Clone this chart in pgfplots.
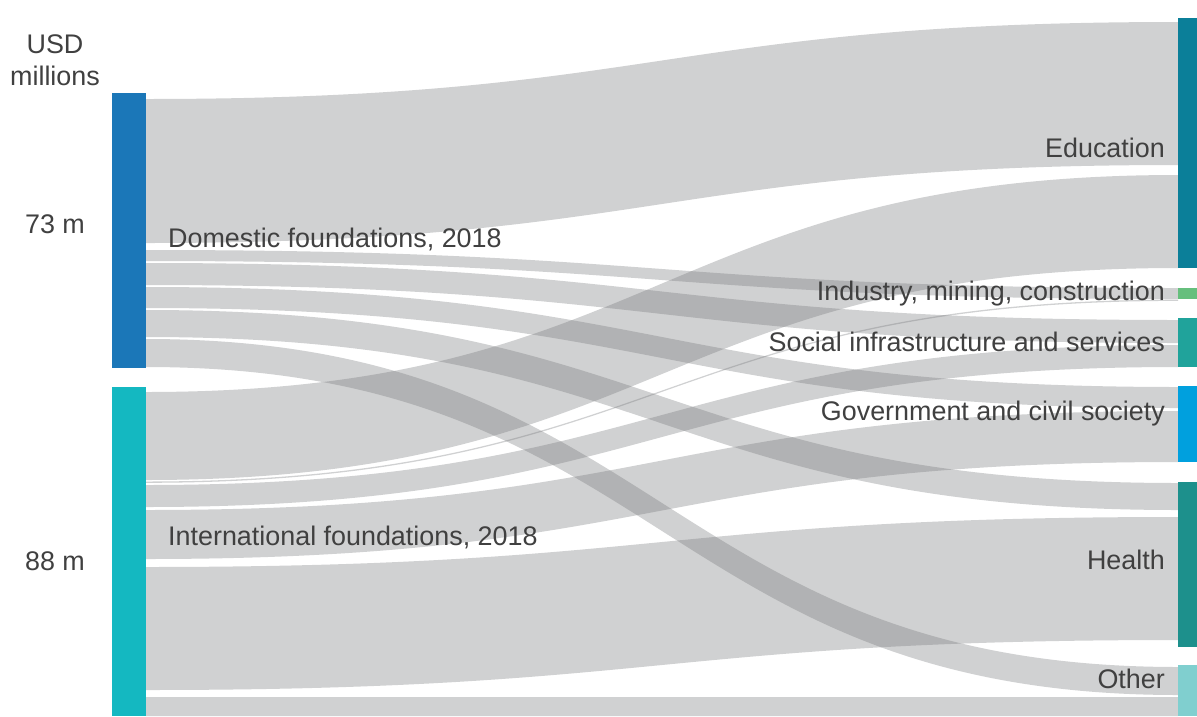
\documentclass[border=0pt]{standalone}
\usepackage{fontspec}
\setmainfont{Liberation Sans}
\usepackage{pgfplots}
\pgfplotsset{compat=1.18}
\definecolor{flowc}{RGB}{117,119,122}
\definecolor{txt}{RGB}{64,64,64}
\definecolor{domc}{RGB}{27,119,184}
\definecolor{intc}{RGB}{20,184,193}
\definecolor{educ}{RGB}{11,127,153}
\definecolor{indc}{RGB}{102,191,125}
\definecolor{socc}{RGB}{32,163,155}
\definecolor{govc}{RGB}{0,160,222}
\definecolor{heac}{RGB}{29,144,140}
\definecolor{othc}{RGB}{128,207,207}
% flow: left top, left bottom, right top, right bottom (pixel rows)
\newcommand{\flow}[4]{\fill[flowc,fill opacity=0.34] (axis cs:146,#1) .. controls (axis cs:662,#1) and (axis cs:662,#3) .. (axis cs:1178,#3) -- (axis cs:1178,#4) .. controls (axis cs:662,#4) and (axis cs:662,#2) .. (axis cs:146,#2) -- cycle;}
\tikzset{lab/.style={font=\fontsize{26.9}{31}\selectfont, text=txt, inner sep=0pt}}
\begin{document}
\begin{tikzpicture}
\begin{axis}[width=1197pt, height=716pt, scale only axis,
  xmin=0, xmax=1197, ymin=0, ymax=716, y dir=reverse,
  hide axis, clip=false]
\path (axis cs:0,0) rectangle (axis cs:1197,716);
% Domestic foundations
\flow{99}{243}{22}{165}
\flow{250}{261}{288}{299}
\flow{263}{285}{320}{343}
\flow{287}{308}{387}{408}
\flow{310}{337}{483}{510}
\flow{339}{367}{667}{695}
% International foundations
\flow{392}{480}{175}{268}
\flow{481.5}{482.8}{299.6}{300.9}
\flow{485}{507}{345}{367}
\flow{510}{559}{411}{462}
\flow{567}{690}{517}{640}
\flow{697}{716}{697}{716}
% nodes
\fill[domc] (axis cs:112,93) rectangle (axis cs:146,368);
\fill[intc] (axis cs:112,387) rectangle (axis cs:146,716);
\fill[educ] (axis cs:1178,18) rectangle (axis cs:1197,268);
\fill[indc] (axis cs:1178,288) rectangle (axis cs:1197,299);
\fill[socc] (axis cs:1178,318) rectangle (axis cs:1197,367);
\fill[govc] (axis cs:1178,386) rectangle (axis cs:1197,462);
\fill[heac] (axis cs:1178,482) rectangle (axis cs:1197,647);
\fill[othc] (axis cs:1178,665) rectangle (axis cs:1197,716);
% labels
\node[lab, anchor=base] at (axis cs:55,53) {USD};
\node[lab, anchor=base] at (axis cs:55,85) {millions};
\node[lab, anchor=base] at (axis cs:55,233) {73 m};
\node[lab, anchor=base] at (axis cs:55,570) {88 m};
\node[lab, anchor=base west] at (axis cs:168,247) {Domestic foundations, 2018};
\node[lab, anchor=base west] at (axis cs:168,545) {International foundations, 2018};
\node[lab, anchor=base east] at (axis cs:1165,157) {Education};
\node[lab, anchor=base east] at (axis cs:1165,300) {Industry, mining, construction};
\node[lab, anchor=base east] at (axis cs:1165,351) {Social infrastructure and services};
\node[lab, anchor=base east] at (axis cs:1165,420) {Government and civil society};
\node[lab, anchor=base east] at (axis cs:1165,569) {Health};
\node[lab, anchor=base east] at (axis cs:1165,688) {Other};
\end{axis}
\end{tikzpicture}
\end{document}
